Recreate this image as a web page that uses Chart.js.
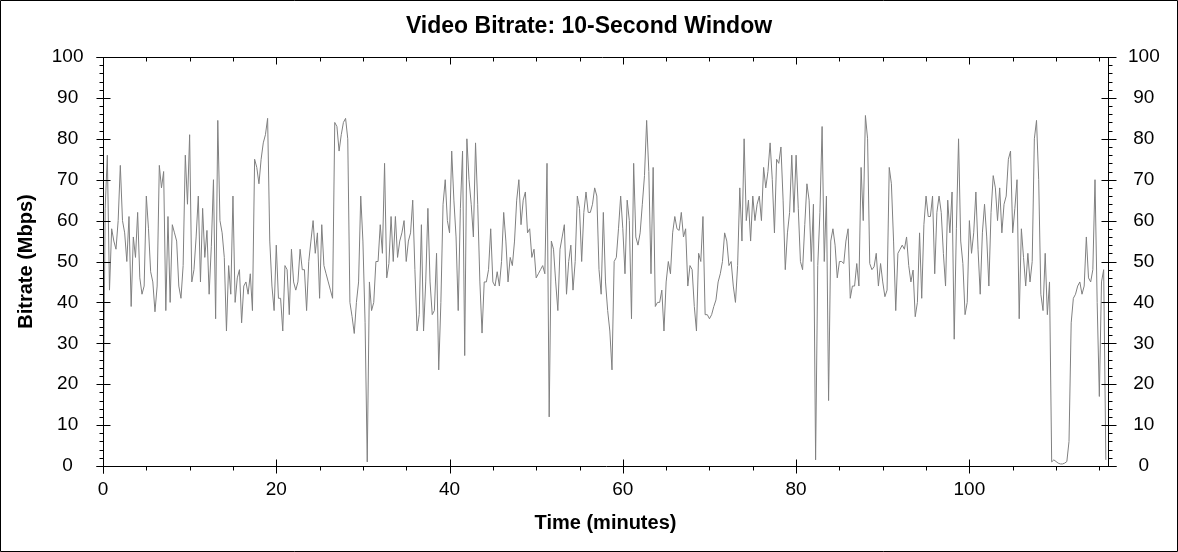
<!DOCTYPE html>
<html>
<head>
<meta charset="utf-8">
<title>Video Bitrate: 10-Second Window</title>
<script src="https://cdn.jsdelivr.net/npm/chart.js@4.4.1/dist/chart.umd.min.js"></script>
<style>
  html, body { margin: 0; padding: 0; background: #fff; }
  #wrap { width: 1178px; height: 552px; }
</style>
</head>
<body>
<div id="wrap"><canvas id="chart" width="1178" height="552"></canvas></div>
<script>
// one sample every 15 s of the movie (values are the 10-second window average, Mbps)
const stepMinutes = 0.25;

// 0 - 20 min
const bitrateA = [
  2, 63, 76, 43, 58, 55, 53, 60, 73.5, 60,
  57, 50, 61, 39, 56, 51, 62, 46, 42, 44,
  66, 58, 47.5, 45, 37.7, 44, 73.5, 68, 72, 38,
  61, 40, 59, 57, 55, 44, 41, 49, 76, 64,
  81, 45, 48, 56, 66, 45, 63, 51, 57.6, 42,
  53.6, 70, 36, 84.5, 60, 57, 51, 33, 49, 42,
  66, 40, 46, 48, 35, 44, 45, 42, 47, 38,
  75, 73, 69, 75, 79, 81, 85, 55, 44, 38,
  54, 41
];
// 20 - 40 min
const bitrateB = [
  41, 33, 49, 48, 37, 53, 45, 43, 45, 53,
  48, 48, 38, 50, 55, 60, 52, 57, 41, 59,
  49, 47, 45, 43, 41, 84, 83, 77, 81, 84,
  85, 80, 40, 36.5, 32.4, 40, 45, 66, 55, 35,
  1, 45, 38, 40, 50, 50, 59, 52, 74, 46,
  49.5, 61, 50, 61, 51, 55, 57, 60, 50, 55,
  57, 65, 48, 33, 37, 59, 33, 45, 63, 45,
  37, 38, 52, 23.5, 40, 64, 70, 60, 57
];
// 40 - 59.5 min
const bitrateC = [
  77, 65, 56, 38, 63, 77, 27, 80, 70, 64,
  56, 79, 64, 45, 32.5, 45, 45, 48, 58, 45,
  44, 47.5, 44, 50, 62, 55, 45, 51, 49, 55,
  65, 70, 59, 65, 67, 57, 58, 51, 53, 46,
  47, 48, 49, 47, 74, 12, 55, 53, 45, 38,
  53, 56, 59, 42, 50, 54, 43, 50, 66, 63,
  50, 62, 67, 62, 62, 64, 68, 66, 48, 42,
  62, 45, 38, 33, 23.5, 50, 51, 58
];
// 59.75 - 79.25 min
const bitrateD = [
  66, 58, 47, 65, 60, 36, 74, 56, 54, 57,
  64, 71, 84.5, 72, 47, 73, 39, 40, 40, 43,
  33, 45, 50, 47, 57, 61, 58, 57.6, 62, 56,
  58, 44, 49, 48, 39, 33, 52, 50, 61, 37,
  37, 36, 37, 39, 40.6, 45, 47, 50, 57, 55,
  49, 50, 44, 40, 49, 68, 55, 80, 60, 65,
  55, 66, 60, 64, 66, 60, 73, 68, 72, 79,
  70, 57, 75, 74, 78, 65, 48, 57, 62
];
// 79.5 - 99 min
const bitrateE = [
  76, 62, 76, 63, 50, 48, 59, 69, 65, 50,
  64, 1.5, 49, 62, 83, 50, 66, 16, 55, 58,
  54, 46, 50, 50, 49.5, 55, 58, 41, 44, 44,
  49.5, 44, 73, 60, 85.7, 80, 49.5, 48, 48.7, 52,
  44, 49.5, 45, 41.4, 43, 73, 69, 55, 38, 52,
  53, 54, 53, 56, 49, 45, 47.9, 36.5, 40, 57,
  41, 59, 66, 61, 61, 66, 47, 62, 66, 62,
  52, 44, 65, 57, 67, 31, 58, 80, 55
];
// 99.25 - end
const bitrateF = [
  49.5, 37, 40, 60, 52, 57, 67, 53, 42, 57,
  64, 56, 44, 62, 71, 68, 60, 68, 57, 64,
  66, 75, 77, 57, 63, 70, 36, 58, 51, 44,
  52, 45, 50, 80, 84.5, 70, 42, 38, 52, 37,
  45, 1, 1.5, 1.1, 0.7, 0.5, 0.5, 0.7, 1.1, 6,
  35, 41, 42, 44, 45, 42, 44, 56, 46, 45,
  48, 70, 40, 17, 45, 48, 1.5
];

const bitrate = [...bitrateA, ...bitrateB, ...bitrateC, ...bitrateD, ...bitrateE, ...bitrateF];
const points = bitrate.map((v, i) => ({ x: i * stepMinutes, y: v }));

const xMax = 116;
const xMajor = [0, 20, 40, 60, 80, 100];
const xMinorStep = 5;
const yMajorStep = 10;
const yMinorStep = 2;

// axes frame + tick marks (major ticks cross the axis, minor ones are short)
const frame = {
    id: 'frame',
    afterDraw(chart) {
        const { ctx, chartArea: a, scales } = chart;
        const x = scales.x, y = scales.y;
        const L = Math.round(a.left) + 0.5;
        const R = Math.round(a.right) + 0.5;
        const T = Math.round(a.top) + 0.5;
        const B = Math.round(a.bottom) + 0.5;
        const line = (x1, y1, x2, y2) => { ctx.moveTo(x1, y1); ctx.lineTo(x2, y2); };
        ctx.save();
        ctx.strokeStyle = '#000';
        ctx.lineWidth = 1;
        ctx.beginPath();
        // outer picture border
        ctx.rect(0.5, 0.5, chart.width - 1, chart.height - 1);
        line(L - 7, B, R + 8, B);
        line(L - 7, T, R, T);
        line(L, T, L, B + 7);
        line(R, T, R, B);
        for (let v = 0; v <= 100; v += yMinorStep) {
            const py = Math.round(y.getPixelForValue(v)) + 0.5;
            if (v % yMajorStep === 0) {
                line(L - 7, py, L + 7, py);
                line(R - 7, py, R + 8, py);
            } else {
                line(L - 4, py, L, py);
                line(R, py, R + 4, py);
            }
        }
        for (let v = 0; v <= xMax; v += xMinorStep) {
            const px = Math.round(x.getPixelForValue(v)) + 0.5;
            if (xMajor.includes(v)) {
                line(px, B - 7, px, B + 7);
                line(px, T, px, T + 7);
            } else {
                line(px, B, px, B + 4);
                line(px, T, px, T + 4);
            }
        }
        ctx.stroke();
        ctx.restore();
    }
};

Chart.defaults.font.family = '"Liberation Sans", Arial, sans-serif';
Chart.defaults.color = '#000';

const tickFont = { size: 19 };
const titleFont = { size: 20, weight: 'bold' };

new Chart(document.getElementById('chart'), {
    type: 'line',
    data: {
        datasets: [{
            data: points,
            borderColor: '#808080',
            borderWidth: 1,
            pointRadius: 0,
            tension: 0,
            fill: false
        }]
    },
    options: {
        responsive: false,
        animation: false,
        devicePixelRatio: 1,
        layout: { padding: 0 },
        plugins: {
            legend: { display: false },
            tooltip: { enabled: false },
            title: {
                display: true,
                text: 'Video Bitrate: 10-Second Window',
                font: { size: 23, weight: 'bold' },
                color: '#000',
                padding: { top: 12.9, bottom: 16.5 }
            }
        },
        scales: {
            x: {
                type: 'linear',
                min: 0,
                max: xMax,
                grid: { display: false, drawTicks: false },
                border: { display: false },
                ticks: { stepSize: 20, includeBounds: false, autoSkip: false, maxRotation: 0, font: tickFont, padding: 12 },
                title: { display: true, text: 'Time (minutes)', font: titleFont, padding: { top: 0, bottom: 17 } },
                afterFit: s => { s.height = 86; }
            },
            y: {
                type: 'linear',
                position: 'left',
                min: 0,
                max: 100,
                grid: { display: false, drawTicks: false },
                border: { display: false },
                ticks: { stepSize: 10, crossAlign: 'center', font: tickFont, padding: 19.5 },
                title: { display: true, text: 'Bitrate (Mbps)', font: titleFont, padding: { top: 14, bottom: 0 } },
                afterFit: s => { s.width = 103; }
            },
            y2: {
                type: 'linear',
                position: 'right',
                min: 0,
                max: 100,
                grid: { display: false, drawTicks: false },
                border: { display: false },
                ticks: { stepSize: 10, crossAlign: 'center', font: tickFont, padding: 20 },
                afterFit: s => { s.width = 70; }
            }
        }
    },
    plugins: [frame]
});
</script>
</body>
</html>
